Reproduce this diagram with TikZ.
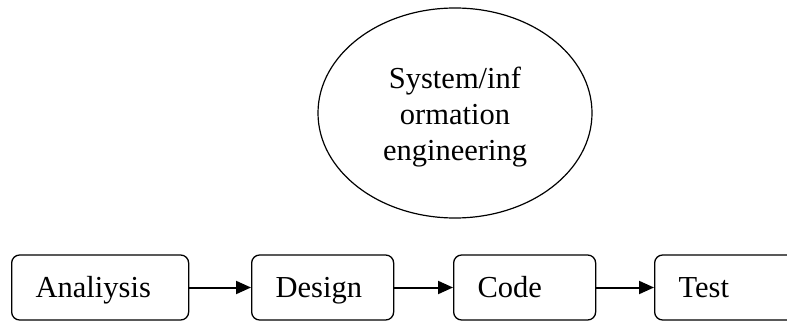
\documentclass[tikz,border=0pt]{standalone}
\usepackage{fontspec}
\setmainfont{Liberation Serif}
\usetikzlibrary{shapes.geometric,arrows.meta}
\tikzset{
  every node/.style={font=\fontsize{30.5}{36}\selectfont},
  stagebox/.style={draw, line width=1.3pt, rounded corners=8pt, anchor=west,
    minimum height=65pt, inner xsep=24pt, inner ysep=0pt, align=left,
    text height=20pt, text depth=1pt},
  sysell/.style={draw, ellipse, line width=1.2pt, minimum width=274pt,
    minimum height=210pt, inner sep=0pt},
  flow/.style={line width=2pt, -{Triangle[length=15pt,width=13pt]}}
}
\begin{document}
\begin{tikzpicture}[x=1pt,y=-1pt]
\clip (0,0) rectangle (787,323);
\node[sysell, label={[align=center, yshift=-3.6pt, inner sep=0pt]center:System/inf\\ormation\\engineering}] (sys) at (455,113) {};
\node[stagebox, text width=129pt] (ana) at (11,287.5) {Analiysis};
\node[stagebox, text width=94pt] (des) at (251,287.5) {Design};
\node[stagebox, text width=94pt] (cod) at (453,287.5) {Code};
\node[stagebox, text width=94pt] (tst) at (654,287.5) {Test};
\draw[flow] (ana) -- (des);
\draw[flow] (des) -- (cod);
\draw[flow] (cod) -- (tst);
\end{tikzpicture}
\end{document}
